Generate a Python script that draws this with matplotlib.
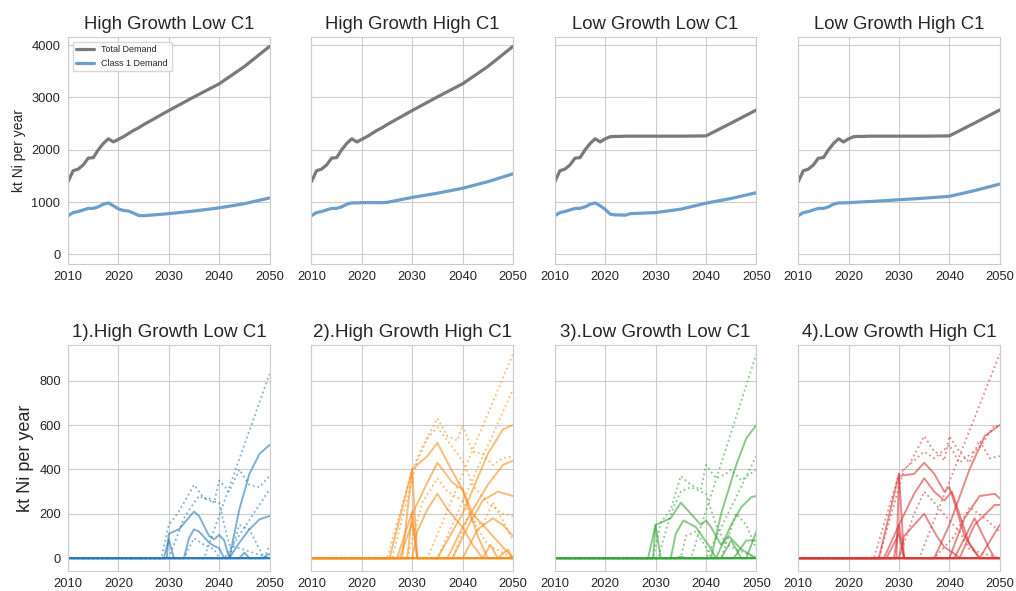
import matplotlib
matplotlib.use("Agg")
import matplotlib.pyplot as plt
import seaborn as sns

# --- top row: demand scenarios ---
dem_years = [2010, 2011, 2012, 2013, 2014, 2015, 2016, 2017, 2018, 2019, 2020,
             2021, 2022, 2023, 2024, 2025, 2030, 2035, 2040, 2045, 2050]
total_high = [1390, 1600, 1630, 1710, 1840, 1850, 2000, 2120, 2210, 2150, 2200,
              2250, 2310, 2370, 2420, 2480, 2750, 3010, 3260, 3590, 3975]
total_low = [1390, 1600, 1630, 1710, 1840, 1850, 2000, 2120, 2210, 2150, 2210,
             2250, 2255, 2255, 2260, 2260, 2260, 2260, 2265, 2510, 2760]
c1_hglc = [740, 800, 820, 850, 880, 880, 910, 960, 985, 930, 870,
           840, 830, 790, 745, 740, 780, 830, 890, 970, 1080]
c1_hghc = [740, 800, 820, 850, 880, 880, 910, 960, 985, 985, 990,
           990, 990, 990, 990, 995, 1090, 1170, 1265, 1390, 1540]
c1_lglc = [740, 800, 820, 850, 880, 880, 910, 960, 985, 930, 860,
           770, 755, 755, 750, 780, 800, 865, 980, 1070, 1180]
c1_lghc = [740, 800, 820, 850, 880, 880, 910, 960, 985, 985, 990,
           995, 1000, 1005, 1010, 1015, 1045, 1075, 1110, 1220, 1345]

top_titles = ["High Growth Low C1", "High Growth High C1",
              "Low Growth Low C1", "Low Growth High C1"]
top_totals = [total_high, total_high, total_low, total_low]
top_c1 = [c1_hglc, c1_hghc, c1_lglc, c1_lghc]

# --- bottom row: supply pathways, each line = (years, values) ---
p1_solid = [
    ([2010, 2050], [0, 0]),
    ([2010, 2029, 2030, 2031, 2050], [0, 0, 85, 0, 0]),
    ([2010, 2029.6, 2030, 2032, 2035, 2036, 2038, 2039, 2040, 2041, 2042, 2050],
     [0, 0, 110, 130, 210, 190, 100, 85, 105, 80, 0, 0]),
    ([2010, 2033, 2034, 2035, 2036, 2038, 2039, 2040, 2041, 2050],
     [0, 0, 90, 130, 120, 70, 55, 45, 0, 0]),
    ([2010, 2042, 2044, 2046, 2048, 2050], [0, 0, 220, 380, 470, 510]),
    ([2010, 2042, 2044, 2046, 2048, 2050], [0, 0, 70, 130, 175, 190]),
    ([2010, 2044, 2045, 2046, 2050], [0, 0, 25, 0, 0]),
    ([2010, 2048.5, 2050], [0, 0, 20]),
]
p1_dot = [
    ([2010, 2028.5, 2030, 2032, 2035, 2037, 2038, 2039, 2040, 2042, 2044, 2046, 2048, 2050],
     [0, 0, 150, 210, 330, 270, 270, 250, 350, 300, 400, 330, 320, 370]),
    ([2010, 2030, 2033, 2035, 2036, 2038, 2040, 2041, 2042, 2050],
     [0, 0, 180, 250, 280, 260, 250, 150, 60, 0]),
    ([2010, 2037, 2050], [0, 0, 830]),
    ([2010, 2041, 2050], [0, 0, 310]),
    ([2010, 2033, 2035, 2037, 2039, 2040, 2050], [0, 0, 90, 60, 40, 0, 0]),
    ([2010, 2042, 2044, 2046, 2048, 2049, 2050], [0, 0, 150, 130, 40, 0, 60]),
]

p2_solid = [
    ([2010, 2050], [0, 0]),
    ([2010, 2025.5, 2030, 2031, 2050], [0, 0, 400, 0, 0]),
    ([2010, 2027, 2030, 2031, 2050], [0, 0, 210, 0, 0]),
    ([2010, 2027.5, 2030, 2031, 2050], [0, 0, 160, 0, 0]),
    ([2010, 2028, 2030, 2033, 2035, 2037.5, 2040, 2043, 2045, 2050],
     [0, 0, 400, 460, 520, 410, 310, 100, 0, 0]),
    ([2010, 2029, 2030, 2033, 2035, 2038, 2040, 2042, 2044, 2046, 2050],
     [0, 0, 200, 340, 430, 340, 310, 200, 150, 100, 0]),
    ([2010, 2030, 2031, 2033, 2035, 2037, 2040, 2042, 2044, 2050],
     [0, 0, 120, 220, 290, 220, 140, 60, 0, 0]),
    ([2010, 2035, 2040, 2045, 2048, 2050], [0, 0, 200, 470, 580, 600]),
    ([2010, 2037, 2040, 2045, 2048, 2050], [0, 0, 140, 330, 420, 440]),
    ([2010, 2038, 2041, 2044, 2047, 2050], [0, 0, 140, 260, 300, 280]),
    ([2010, 2040, 2043, 2046, 2048, 2050], [0, 0, 130, 180, 150, 100]),
    ([2010, 2044, 2045.5, 2047, 2049, 2050], [0, 0, 60, 0, 40, 0]),
]
p2_dot = [
    ([2010, 2025, 2030, 2032, 2035, 2037, 2039, 2040, 2042, 2044, 2046, 2048, 2050],
     [0, 0, 400, 500, 630, 550, 530, 600, 480, 470, 420, 450, 460]),
    ([2010, 2026, 2031, 2033, 2035, 2037, 2040, 2042, 2045, 2048, 2050],
     [0, 0, 440, 540, 590, 530, 440, 330, 250, 200, 190]),
    ([2010, 2033, 2050], [0, 0, 920]),
    ([2010, 2035, 2050], [0, 0, 760]),
    ([2010, 2029, 2032, 2035, 2037, 2040, 2042, 2045, 2050],
     [0, 0, 250, 360, 300, 260, 170, 60, 0]),
    ([2010, 2038, 2041, 2044, 2046, 2048, 2050], [0, 0, 180, 150, 250, 170, 80]),
]

p3_solid = [
    ([2010, 2050], [0, 0]),
    ([2010, 2028.5, 2030, 2031, 2050], [0, 0, 150, 0, 0]),
    ([2010, 2029.5, 2030, 2033, 2035, 2037, 2039, 2040, 2041, 2043, 2044.5, 2047, 2050],
     [0, 0, 150, 180, 250, 200, 150, 170, 140, 60, 100, 40, 0]),
    ([2010, 2033, 2034, 2035.5, 2038, 2039.5, 2040.5, 2042, 2050],
     [0, 0, 110, 170, 140, 90, 60, 0, 0]),
    ([2010, 2041, 2043, 2046, 2048, 2050], [0, 0, 200, 420, 540, 600]),
    ([2010, 2042, 2045, 2047, 2049, 2050], [0, 0, 150, 230, 275, 280]),
    ([2010, 2043, 2045, 2047, 2050], [0, 0, 80, 0, 0]),
    ([2010, 2045.5, 2048, 2050], [0, 0, 80, 80]),
    ([2010, 2048, 2050], [0, 0, 120]),
    ([2010, 2034, 2035, 2036, 2050], [0, 0, 8, 0, 0]),
]
p3_dot = [
    ([2010, 2029.5, 2031, 2033, 2035, 2037, 2038, 2039, 2040, 2041, 2042, 2044, 2045, 2047, 2050],
     [0, 0, 160, 220, 370, 330, 320, 310, 420, 390, 360, 380, 400, 350, 400]),
    ([2010, 2030.5, 2033, 2035, 2037, 2038, 2040, 2042, 2044, 2050],
     [0, 0, 200, 300, 320, 310, 290, 150, 60, 0]),
    ([2010, 2037, 2050], [0, 0, 920]),
    ([2010, 2040, 2050], [0, 0, 460]),
    ([2010, 2035, 2036, 2038, 2040, 2041, 2050], [0, 0, 100, 120, 50, 0, 0]),
    ([2010, 2043, 2046, 2048, 2050], [0, 0, 200, 150, 40]),
]

p4_solid = [
    ([2010, 2050], [0, 0]),
    ([2010, 2026, 2030, 2031, 2050], [0, 0, 380, 0, 0]),
    ([2010, 2027, 2030, 2031, 2050], [0, 0, 150, 0, 0]),
    ([2010, 2027.5, 2030, 2031, 2050], [0, 0, 110, 0, 0]),
    ([2010, 2029.5, 2030, 2033, 2035, 2037, 2039, 2040, 2041, 2043, 2046, 2050],
     [0, 0, 370, 380, 430, 380, 300, 320, 250, 100, 0, 0]),
    ([2010, 2029, 2030, 2033, 2035, 2037, 2039, 2040.5, 2042, 2044, 2046, 2050],
     [0, 0, 150, 290, 360, 300, 260, 300, 200, 60, 0, 0]),
    ([2010, 2030, 2031, 2033, 2035, 2037.5, 2039, 2041, 2042, 2050],
     [0, 0, 100, 150, 200, 100, 50, 20, 0, 0]),
    ([2010, 2037, 2040, 2044, 2047, 2050], [0, 0, 150, 400, 550, 600]),
    ([2010, 2040, 2043, 2046, 2049, 2050], [0, 0, 180, 280, 290, 270]),
    ([2010, 2042, 2045, 2049, 2050], [0, 0, 150, 240, 240]),
    ([2010, 2041, 2045, 2048, 2049, 2050], [0, 0, 180, 40, 0, 0]),
    ([2010, 2046, 2050], [0, 0, 150]),
]
p4_dot = [
    ([2010, 2025, 2030, 2032, 2035, 2037, 2038, 2039, 2040, 2042, 2044, 2046, 2048, 2050],
     [0, 0, 380, 420, 550, 480, 470, 440, 550, 480, 430, 530, 450, 460]),
    ([2010, 2026, 2031, 2033, 2035, 2037, 2040, 2042, 2046, 2049, 2050],
     [0, 0, 400, 440, 480, 450, 510, 430, 500, 600, 590]),
    ([2010, 2034, 2050], [0, 0, 920]),
    ([2010, 2030, 2033, 2035, 2037, 2040, 2042, 2044, 2050],
     [0, 0, 200, 300, 250, 170, 120, 40, 0]),
    ([2010, 2037, 2041, 2044, 2047, 2050], [0, 0, 100, 230, 180, 120]),
]

bottom_titles = ["1).High Growth Low C1", "2).High Growth High C1",
                 "3).Low Growth Low C1", "4).Low Growth High C1"]
bottom_solid = [p1_solid, p2_solid, p3_solid, p4_solid]
bottom_dot = [p1_dot, p2_dot, p3_dot, p4_dot]
bottom_colors = ["#2b7bba", "#f7901e", "#3aa53a", "#d73a3a"]

sns.set_style("whitegrid")
plt.rcParams['font.family'] = ['Liberation Sans', 'DejaVu Sans']

fig, axes = plt.subplots(2, 4, figsize=(10.16, 5.91), dpi=100)
fig.subplots_adjust(left=0.067, right=0.984, top=0.937, bottom=0.033,
                    wspace=0.208, hspace=0.36)

for i in range(4):
    ax = axes[0][i]
    ax.plot(dem_years, top_totals[i], color="#7a7a7a", lw=2.3, label="Total Demand")
    ax.plot(dem_years, top_c1[i], color="#6c9fcc", lw=2.3, label="Class 1 Demand")
    ax.set_title(top_titles[i], fontsize=13.3)
    ax.set_xlim(2010, 2050)
    ax.set_ylim(-175, 4150)
    ax.set_yticks([0, 1000, 2000, 3000, 4000])
    ax.set_xticks([2010, 2020, 2030, 2040, 2050])
    ax.tick_params(labelsize=9.3, pad=2)
    if i == 0:
        ax.set_ylabel("kt Ni per year", fontsize=10)
        ax.legend(loc="upper left", fontsize=6.5, frameon=True)
    else:
        ax.set_yticklabels([])

for i in range(4):
    ax = axes[1][i]
    c = bottom_colors[i]
    for xs, ys in bottom_solid[i]:
        ax.plot(xs, ys, color=c, lw=1.4, alpha=0.6)
    for xs, ys in bottom_dot[i]:
        ax.plot(xs, ys, color=c, lw=1.3, ls=":", alpha=0.6)
    ax.set_title(bottom_titles[i], fontsize=13.5)
    ax.set_xlim(2010, 2050)
    ax.set_ylim(-60, 960)
    ax.set_yticks([0, 200, 400, 600, 800])
    ax.set_xticks([2010, 2020, 2030, 2040, 2050])
    ax.tick_params(labelsize=9.3, pad=1.5)
    if i == 0:
        ax.set_ylabel("kt Ni per year", fontsize=13)
    else:
        ax.set_yticklabels([])

fig.savefig("out.png", dpi=100)
